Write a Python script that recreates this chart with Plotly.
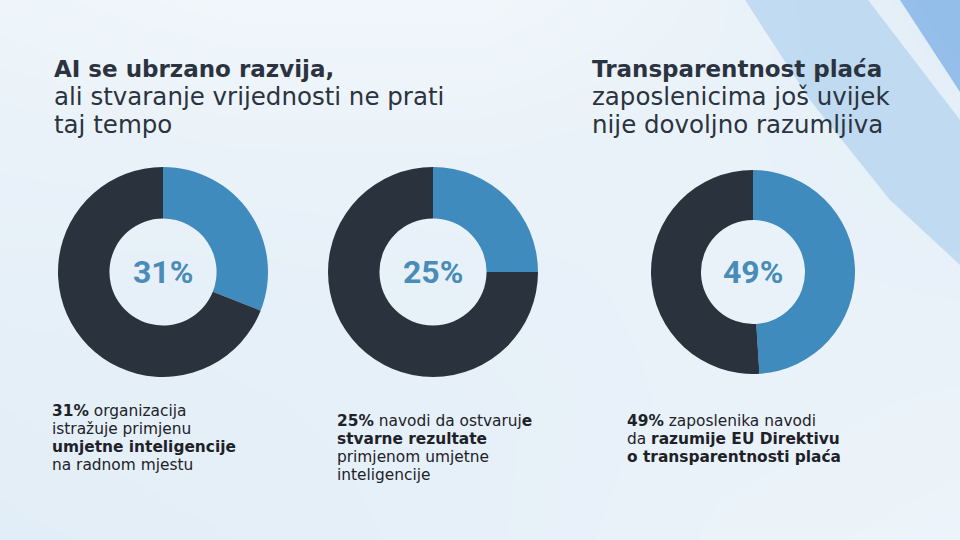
import plotly.graph_objects as go

W, H = 960, 540

# ---- data ----
shares = [31, 25, 49]                      # percent (blue slice)
centers_px = [(163, 272), (433, 272), (753, 272)]
radii_px = [105, 105, 102]

titles = [
    (54, ["<b>AI se ubrzano razvija,</b>", "ali stvaranje vrijednosti ne prati", "taj tempo"]),
    (592, ["<b>Transparentnost plaća</b>", "zaposlenicima još uvijek", "nije dovoljno razumljiva"]),
]
captions = [
    (52, 416, ["<b>31%</b> organizacija", "istražuje primjenu",
               "<b>umjetne inteligencije</b>", "na radnom mjestu"]),
    (337, 426, ["<b>25%</b> navodi da ostvaruj<b>e</b>", "<b>stvarne rezultate</b>",
                "primjenom umjetne", "inteligencije"]),
    (627, 426, ["<b>49%</b> zaposlenika navodi", "da <b>razumije EU Direktivu</b>",
                "<b>o transparentnosti plaća</b>"]),
]

# background tint grid (0 = near white, 1 = light blue)
bg_x = [0, 240, 480, 720, 960]
bg_y = [0, 135, 270, 405, 540]
bg_z = [
    [0.15, 0.05, 0.05, 0.25, 0.60],
    [0.30, 0.25, 0.25, 0.30, 0.45],
    [0.40, 0.40, 0.35, 0.30, 0.35],
    [0.50, 0.45, 0.40, 0.30, 0.25],
    [0.55, 0.50, 0.40, 0.25, 0.20],
]

BLUE = "#3f8bbd"
DARK = "#2a323e"
PCT_COLOR = "#4a8cb8"
TEXT_DARK = "#2b3340"
CAP_COLOR = "#1e2228"
FONT = "DejaVu Sans"
DESC = 0.236   # DejaVu Sans descent (em)


def px(x):
    return x / W


def py(y):
    return 1 - y / H


fig = go.Figure()

fig.add_trace(go.Heatmap(
    x=bg_x, y=bg_y, z=bg_z, zsmooth="best", zmin=0, zmax=1,
    colorscale=[[0, "#f2f7fb"], [1, "#d5e6f4"]],
    showscale=False, hoverinfo="skip",
))

for s, (cx, cy), r in zip(shares, centers_px, radii_px):
    fig.add_trace(go.Pie(
        values=[s, 100 - s],
        labels=["a", "b"],
        marker=dict(colors=[BLUE, DARK], line=dict(width=0)),
        hole=0.51,
        sort=False,
        direction="clockwise",
        rotation=0,
        textinfo="none",
        hoverinfo="skip",
        showlegend=False,
        domain=dict(x=[px(cx - r), px(cx + r)], y=[py(cy + r), py(cy - r)]),
    ))

annotations = []
for s, (cx, cy) in zip(shares, centers_px):
    annotations.append(dict(
        x=px(cx), y=py(cy), xref="paper", yref="paper",
        text=f"<b>{s}%</b>", showarrow=False,
        font=dict(family="Roboto", size=32, color=PCT_COLOR),
        xanchor="center", yanchor="middle",
    ))


def add_line(x0, baseline, text, size, color):
    annotations.append(dict(
        x=px(x0), y=py(baseline + DESC * size), xref="paper", yref="paper",
        text=text, showarrow=False,
        font=dict(family=FONT, size=size, color=color),
        xanchor="left", yanchor="bottom",
        borderpad=0, borderwidth=0,
    ))


title_sizes = [23, 24.5, 24.5]
title_base = [77, 105.2, 133.7]
for x0, lines in titles:
    for line, b, sz in zip(lines, title_base, title_sizes):
        add_line(x0, b, line, sz, TEXT_DARK)

cap_size = 15.4
cap_step = 18.1
for x0, b0, lines in captions:
    for i, line in enumerate(lines):
        add_line(x0, b0 + i * cap_step, line, cap_size, CAP_COLOR)

shapes = [
    # medium blue band top right
    dict(type="path", xref="paper", yref="paper", layer="above",
         path=(f"M {px(745)},{py(0)} L {px(868)},{py(0)} L {px(960)},{py(120)} "
               f"L {px(960)},{py(265)} L {px(890)},{py(200)} L {px(810)},{py(100)} Z"),
         fillcolor="rgba(150,195,235,0.48)", line=dict(width=0)),
    # darker blue corner
    dict(type="path", xref="paper", yref="paper", layer="above",
         path=f"M {px(900)},{py(0)} L {px(960)},{py(0)} L {px(960)},{py(92)} Z",
         fillcolor="rgba(115,170,228,0.70)", line=dict(width=0)),
]

fig.update_layout(
    width=W, height=H,
    margin=dict(l=0, r=0, t=0, b=0),
    paper_bgcolor="#e6f0f7",
    plot_bgcolor="rgba(0,0,0,0)",
    xaxis=dict(range=[0, 960], visible=False, fixedrange=True),
    yaxis=dict(range=[540, 0], visible=False, fixedrange=True),
    annotations=annotations,
    shapes=shapes,
    font=dict(family=FONT),
)

fig.write_html("out.html", config={"displayModeBar": False})
